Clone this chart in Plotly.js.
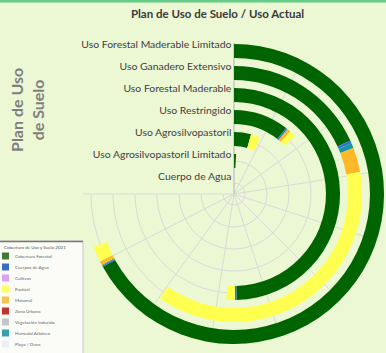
<!DOCTYPE html>
<html>
<head>
<meta charset="utf-8">
<script src="https://cdn.plot.ly/plotly-3.0.1.min.js"></script>
<style>
  html, body { margin: 0; padding: 0; background: #ecf7d4; }
  #chart { width: 386px; height: 353px; }
</style>
</head>
<body>
<div id="chart"></div>
<script>
// Plan de uso (rings, inner to outer)
const categories = [
  'Cuerpo de Agua',
  'Uso Agrosilvopastoril Limitado',
  'Uso Agrosilvopastoril',
  'Uso Restringido',
  'Uso Forestal Maderable',
  'Uso Ganadero Extensivo',
  'Uso Forestal Maderable Limitado'
];

// Uso actual, in stacking order (angular units, 270 = full sweep)
const forestal = [0, 3, 16, 38.3, 178.6, 65.3, 241];
const agua     = [0, 0, 0, 1.0, 0.9, 1.3, 0.4];
const humedal  = [0, 0, 0, 0.4, 0, 2.3, 0.4];
const matorral = [0, 0, 0, 2.3, 0, 11.2, 1.5];
const pastizal = [0, 0, 9, 4.5, 4.7, 135.4, 6];

// legend of the land cover map
const legendTitle = 'Cobertura de Uso y Suelo 2021';
const legendNames = [
  'Cobertura Forestal', 'Cuerpos de Agua', 'Cultivos', 'Pastizal', 'Matorral',
  'Zona Urbana', 'Vegetación Inducida', 'Humedal Arbóreo', 'Playa / Duna'
];
const legendColors = [
  '#3f7a34', '#3a6cc2', '#dba3ef', '#ffff66', '#f1c453',
  '#c0342c', '#c6c6c6', '#3b9fae', '#eeeefa'
];

const W = 386, H = 353;
const px = x => x / W;
const py = y => 1 - y / H;

const series = [
  { name: 'Cobertura Forestal', values: forestal, color: '#006400' },
  { name: 'Cuerpos de Agua', values: agua, color: '#2e72d2' },
  { name: 'Humedal Arbóreo', values: humedal, color: '#1597a6' },
  { name: 'Matorral', values: matorral, color: '#ffb928' },
  { name: 'Pastizal', values: pastizal, color: '#ffff50' }
];

const ringPos = categories.map((c, i) => i + 0.5);
const thick = 0.64;

const traces = [];
const start = categories.map(() => 0);
series.forEach(s => {
  const theta = [], width = [], base = [], r = [];
  s.values.forEach((v, i) => {
    if (v > 0) {
      theta.push(start[i] + v / 2);
      width.push(v);
      base.push(ringPos[i] - thick / 2);
      r.push(thick);
    }
    start[i] += v;
  });
  traces.push({
    type: 'barpolar',
    name: s.name,
    theta: theta,
    width: width,
    base: base,
    r: r,
    marker: { color: s.color, line: { width: 0 } },
    showlegend: false,
    hoverinfo: 'skip'
  });
});

// category labels next to the radial axis
traces.push({
  type: 'scatterpolar',
  mode: 'text',
  r: ringPos,
  theta: categories.map(() => 0),
  text: categories.map(c => c + '\u00a0'),
  textposition: 'top left',
  textfont: { family: 'Lato', size: 10.4, color: '#404040' },
  cliponaxis: false,
  showlegend: false,
  hoverinfo: 'skip'
});

const shapes = [
  { type: 'rect', xref: 'paper', yref: 'paper', x0: 0, x1: 1, y0: py(2.5), y1: 1,
    fillcolor: '#66cc88', line: { width: 0 } },
  { type: 'rect', xref: 'paper', yref: 'paper', x0: px(-1), x1: px(83), y0: py(360), y1: py(241),
    fillcolor: '#fbfbf8', line: { color: '#c8c8c8', width: 1 } },
  { type: 'line', xref: 'paper', yref: 'paper', x0: px(0), x1: px(83), y0: py(241.5), y1: py(241.5),
    line: { color: '#777', width: 1.5 } }
];
const annotations = [
  { text: '<b>Plan de Uso<br>de Suelo</b>', textangle: -90, xref: 'paper', yref: 'paper',
    x: px(27), y: py(110), xanchor: 'center', yanchor: 'middle', showarrow: false,
    font: { family: 'Lato', size: 16, color: '#7f7f7f' } },
  { text: legendTitle, xref: 'paper', yref: 'paper', x: px(2), y: py(247),
    xanchor: 'left', yanchor: 'middle', showarrow: false,
    font: { family: 'Lato', size: 4.5, color: '#555' } }
];
legendNames.forEach((n, i) => {
  const yc = 256 + i * 11;
  shapes.push({ type: 'rect', xref: 'paper', yref: 'paper',
    x0: px(2), x1: px(9), y0: py(yc + 3.5), y1: py(yc - 3.5),
    fillcolor: legendColors[i], line: { width: 0 } });
  annotations.push({ text: n, xref: 'paper', yref: 'paper', x: px(13), y: py(yc),
    xanchor: 'left', yanchor: 'middle', showarrow: false,
    font: { family: 'Lato', size: 4.5, color: '#666' } });
});

const layout = {
  width: W,
  height: H,
  margin: { l: 0, r: 0, t: 0, b: 0 },
  paper_bgcolor: '#ecf7d4',
  font: { family: 'Lato', color: '#404040' },
  title: {
    text: '<b>Plan de Uso de Suelo / Uso Actual</b>',
    x: px(217.5), y: py(14), xanchor: 'center', yanchor: 'middle',
    font: { family: 'Lato', size: 11.5, color: '#3a3a3a' }
  },
  showlegend: false,
  polar: {
    domain: { x: [px(83), px(385)], y: [py(345), py(43)] },
    sector: [-180, 90],
    bgcolor: 'rgba(0,0,0,0)',
    hole: 0,
    barmode: 'overlay',
    angularaxis: {
      direction: 'clockwise',
      rotation: 90,
      tick0: 0,
      dtick: 27,
      showticklabels: false,
      ticks: '',
      showline: false,
      gridcolor: '#dadada',
      gridwidth: 1
    },
    radialaxis: {
      range: [0, 151 / 22],
      angle: 90,
      tickvals: ringPos,
      showticklabels: false,
      ticks: '',
      showgrid: true,
      gridcolor: '#dadada',
      showline: true,
      linecolor: '#bdbdbd',
      linewidth: 1,
      layer: 'below traces'
    }
  },
  shapes: shapes,
  annotations: annotations
};

Plotly.newPlot('chart', traces, layout, { displayModeBar: false, staticPlot: true });
</script>
</body>
</html>
